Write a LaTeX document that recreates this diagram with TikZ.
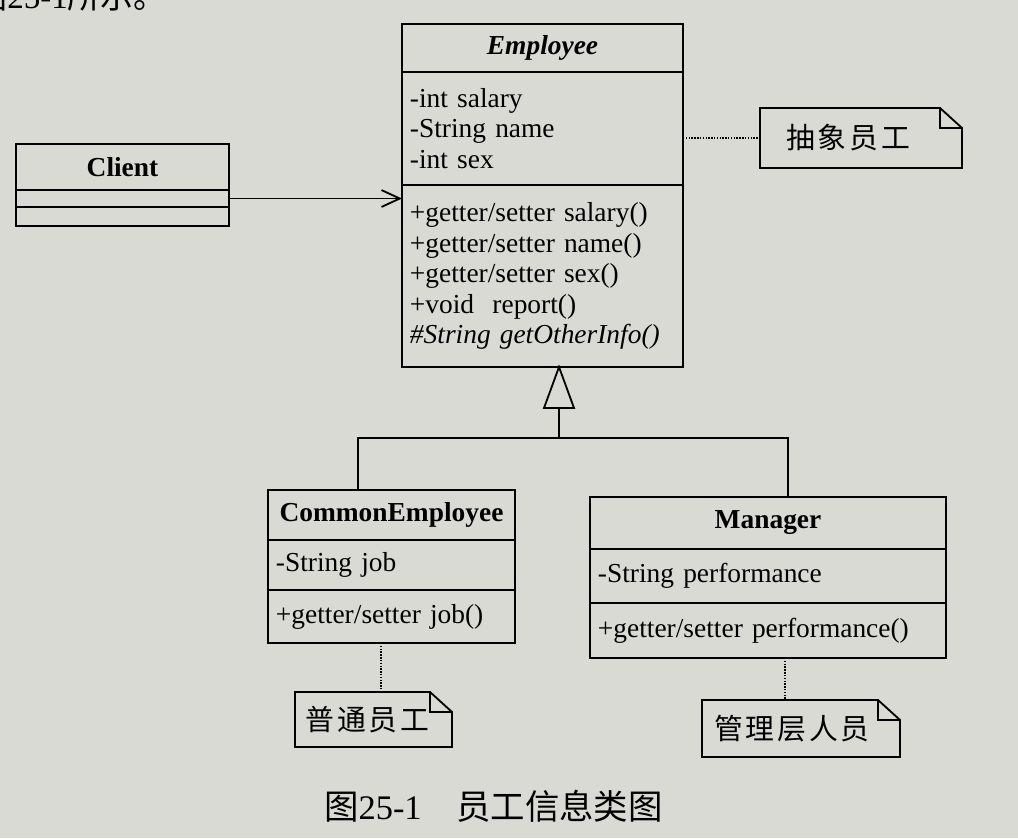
\documentclass[tikz,border=0pt]{standalone}
\usepackage{fontspec}
\setmainfont{Liberation Serif}
\newfontfamily\cjk{Noto Sans CJK SC}
\newfontfamily\cjknote[LetterSpace=10]{Noto Sans CJK SC}
\usetikzlibrary{positioning,arrows.meta}
\definecolor{paper}{RGB}{218,218,213}
\tikzset{
    box/.style={draw, line width=1.3pt, outer sep=0pt, inner xsep=0.2cm, inner ysep=0pt, font=\fontsize{19.5}{21.8}\selectfont},
    classname/.style={box, align=center, font=\fontsize{19.5}{21.8}\selectfont\bfseries},
    members/.style={box, align=left},
    notebox/.style={inner sep=0pt, outer sep=0pt, font=\fontsize{20.5}{24}\selectfont\cjknote},
    notelink/.style={densely dotted, line width=1pt},
}
\begin{document}
\begin{tikzpicture}[x=0.025cm, y=-0.025cm]
            \useasboundingbox (0,0) rectangle (1018,838);
            \clip (0,0) rectangle (1018,838);
            \fill [paper] (0,0) rectangle (1018,838);
            \node [anchor=east, font=\fontsize{23.5}{26}\selectfont] (prevline) at (172,-4) {{\cjk 图}25-1{\cjk 所示。}};
            % Employee
            \node [classname, minimum width=7.025cm, minimum height=1.2cm] (empname) at (542.5,48) {\textit{Employee}};
            \node [members, text width=6.625cm, minimum height=2.825cm, below=0pt of empname] (empattr) {-int salary\\-String name\\-int sex};
            \node [members, text width=6.625cm, minimum height=4.55cm, below=0pt of empattr] (empops) {+getter/setter salary()\\+getter/setter name()\\+getter/setter sex()\\+void\ \ report()\\\textit{\#String getOtherInfo()}};
            % Client
            \node [classname, minimum width=5.325cm, minimum height=1.15cm] (cliname) at (122.5,167) {Client};
            \node [box, minimum width=5.325cm, minimum height=0.425cm, below=0pt of cliname] (cliattr) {};
            \node [box, minimum width=5.325cm, minimum height=0.475cm, below=0pt of cliattr] (cliops) {};
            % subclasses
            \node [classname, minimum width=6.175cm, minimum height=1.25cm] (cename) at (391.5,515) {CommonEmployee};
            \node [members, text width=5.775cm, minimum height=1.25cm, below=0pt of cename] (ceattr) {-String job};
            \node [members, text width=5.775cm, minimum height=1.325cm, below=0pt of ceattr] (ceops) {+getter/setter job()};
            \node [classname, minimum width=8.9cm, minimum height=1.3cm] (mgname) at (768,523) {Manager};
            \node [members, text width=8.5cm, minimum height=1.35cm, below=0pt of mgname] (mgattr) {-String performance};
            \node [members, text width=8.5cm, minimum height=1.375cm, below=0pt of mgattr] (mgops) {+getter/setter performance()};
            % notes
            \node [notebox, minimum width=5.05cm, minimum height=1.5cm] (noteabs) at (861,138) {抽象员工\kern0.65cm};
            \node [notebox, minimum width=3.925cm, minimum height=1.375cm] (notece) at (373.5,719.5) {普通员工\kern0.3cm};
            \node [notebox, minimum width=4.95cm, minimum height=1.425cm] (notemg) at (801,728.5) {管理层人员\kern0.45cm};
            \foreach \n in {noteabs,notece,notemg}
                \draw [line width=1.3pt] (\n.south west) -- (\n.north west) -- ([xshift=-0.55cm]\n.north east) -- ([yshift=-0.5cm]\n.north east) -- (\n.south east) -- cycle
                    ([xshift=-0.55cm]\n.north east) |- ([yshift=-0.5cm]\n.north east);
            \draw [notelink] (empattr.east |- noteabs.west) -- (noteabs.west);
            \draw [notelink] ([xshift=0.19cm]notece.north |- ceops.south) -- ([xshift=0.19cm]notece.north);
            \draw [notelink] ([xshift=-0.4cm]notemg.north |- mgops.south) -- ([xshift=-0.4cm]notemg.north);
            % connectors
            \draw [line width=1.3pt, -{Straight Barb[length=13pt,width=12pt]}] (cliattr.east) -- (cliattr.east -| empops.west);
            \coordinate (genapex) at (559,367);
            \coordinate (genbase) at (559,408);
            \coordinate (barce) at (358,438);
            \coordinate (barmg) at (788,438);
            \draw [line width=1.3pt] (genapex) -- (544,408) -- (574,408) -- cycle;
            \draw [line width=1.3pt] (genbase) -- (genbase |- barce);
            \draw [line width=1.3pt] (cename.north -| barce) -- (barce) -- (barmg) -- (mgname.north -| barmg);
            \node [font=\fontsize{24.5}{27}\selectfont] (caption) at (493.5,806) {{\cjk 图}25-1\quad{\cjk 员工信息类图}};
        \end{tikzpicture}
\end{document}
